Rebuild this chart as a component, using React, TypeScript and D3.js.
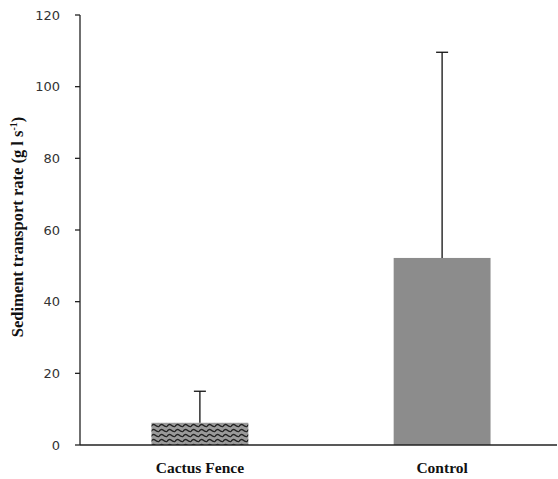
import React from "react";
import * as d3 from "d3";

const categories = ["Cactus Fence", "Control"];
const means = [6.2, 52.2];
const errors = [8.8, 57.4];
const yTicks = [0, 20, 40, 60, 80, 100, 120];

export default function App() {
    const width = 558;
    const height = 479;
    const left = 80;
    const right = 557;
    const top = 15;
    const bottom = 445;

    const x = d3.scaleBand<string>()
        .domain(categories)
        .range([left, 562])
        .paddingInner(0.6)
        .paddingOuter(0.295);

    const y = d3.scaleLinear()
        .domain([0, 120])
        .range([bottom, top]);

    const capHalf = 6;

    return (
        <svg width={width} height={height} style={{position: "absolute", left: 0, top: 0}}>
            <defs>
                <pattern id="wave" patternUnits="userSpaceOnUse" width={8} height={5} x={151} y={423}>
                    <rect width={8} height={5} fill="#9a9a9a" />
                    <path d="M0,3.5 Q2,0.5 4,2 Q6,4 8,3.5" fill="none" stroke="#222" strokeWidth={1.4} />
                </pattern>
            </defs>
            <rect x={0} y={0} width={width} height={height} fill="#fff" />

            {categories.map((c, i) => {
                const bx = x(c) as number;
                const bw = x.bandwidth();
                const cx = bx + bw / 2;
                return (
                    <g key={c}>
                        <rect
                            x={bx}
                            y={y(means[i])}
                            width={bw}
                            height={bottom - y(means[i])}
                            fill={i === 0 ? "url(#wave)" : "#8c8c8c"}
                        />
                        <line x1={cx} x2={cx} y1={y(means[i])} y2={y(means[i] + errors[i])} stroke="#111" strokeWidth={1.3} />
                        <line x1={cx - capHalf} x2={cx + capHalf} y1={y(means[i] + errors[i])} y2={y(means[i] + errors[i])} stroke="#111" strokeWidth={1.3} />
                        <text
                            x={cx}
                            y={473}
                            textAnchor="middle"
                            fontFamily="'Liberation Serif', 'Times New Roman', serif"
                            fontWeight="bold"
                            fontSize={15.5}
                            fill="#111"
                        >
                            {c}
                        </text>
                    </g>
                );
            })}

            {/* axes */}
            <line x1={left} x2={left} y1={top} y2={bottom} stroke="#222" strokeWidth={1.3} />
            <line x1={left} x2={right} y1={bottom} y2={bottom} stroke="#222" strokeWidth={1.3} />
            {yTicks.map(t => (
                <g key={t}>
                    <line x1={left - 5} x2={left} y1={y(t)} y2={y(t)} stroke="#222" strokeWidth={1.3} />
                    <text
                        x={left - 20}
                        y={y(t)}
                        dy="0.35em"
                        textAnchor="end"
                        fontFamily="'DejaVu Sans', Verdana, sans-serif"
                        fontSize={13}
                        fill="#333"
                    >
                        {t}
                    </text>
                </g>
            ))}

            <text
                transform={`translate(23, 227) rotate(-90)`}
                textAnchor="middle"
                fontFamily="'Liberation Serif', 'Times New Roman', serif"
                fontWeight="bold"
                fontSize={16.5}
                fill="#111"
            >
                Sediment transport rate (g l s<tspan dy={-6} fontSize={10}>-1</tspan><tspan dy={6}>)</tspan>
            </text>
        </svg>
    );
}
